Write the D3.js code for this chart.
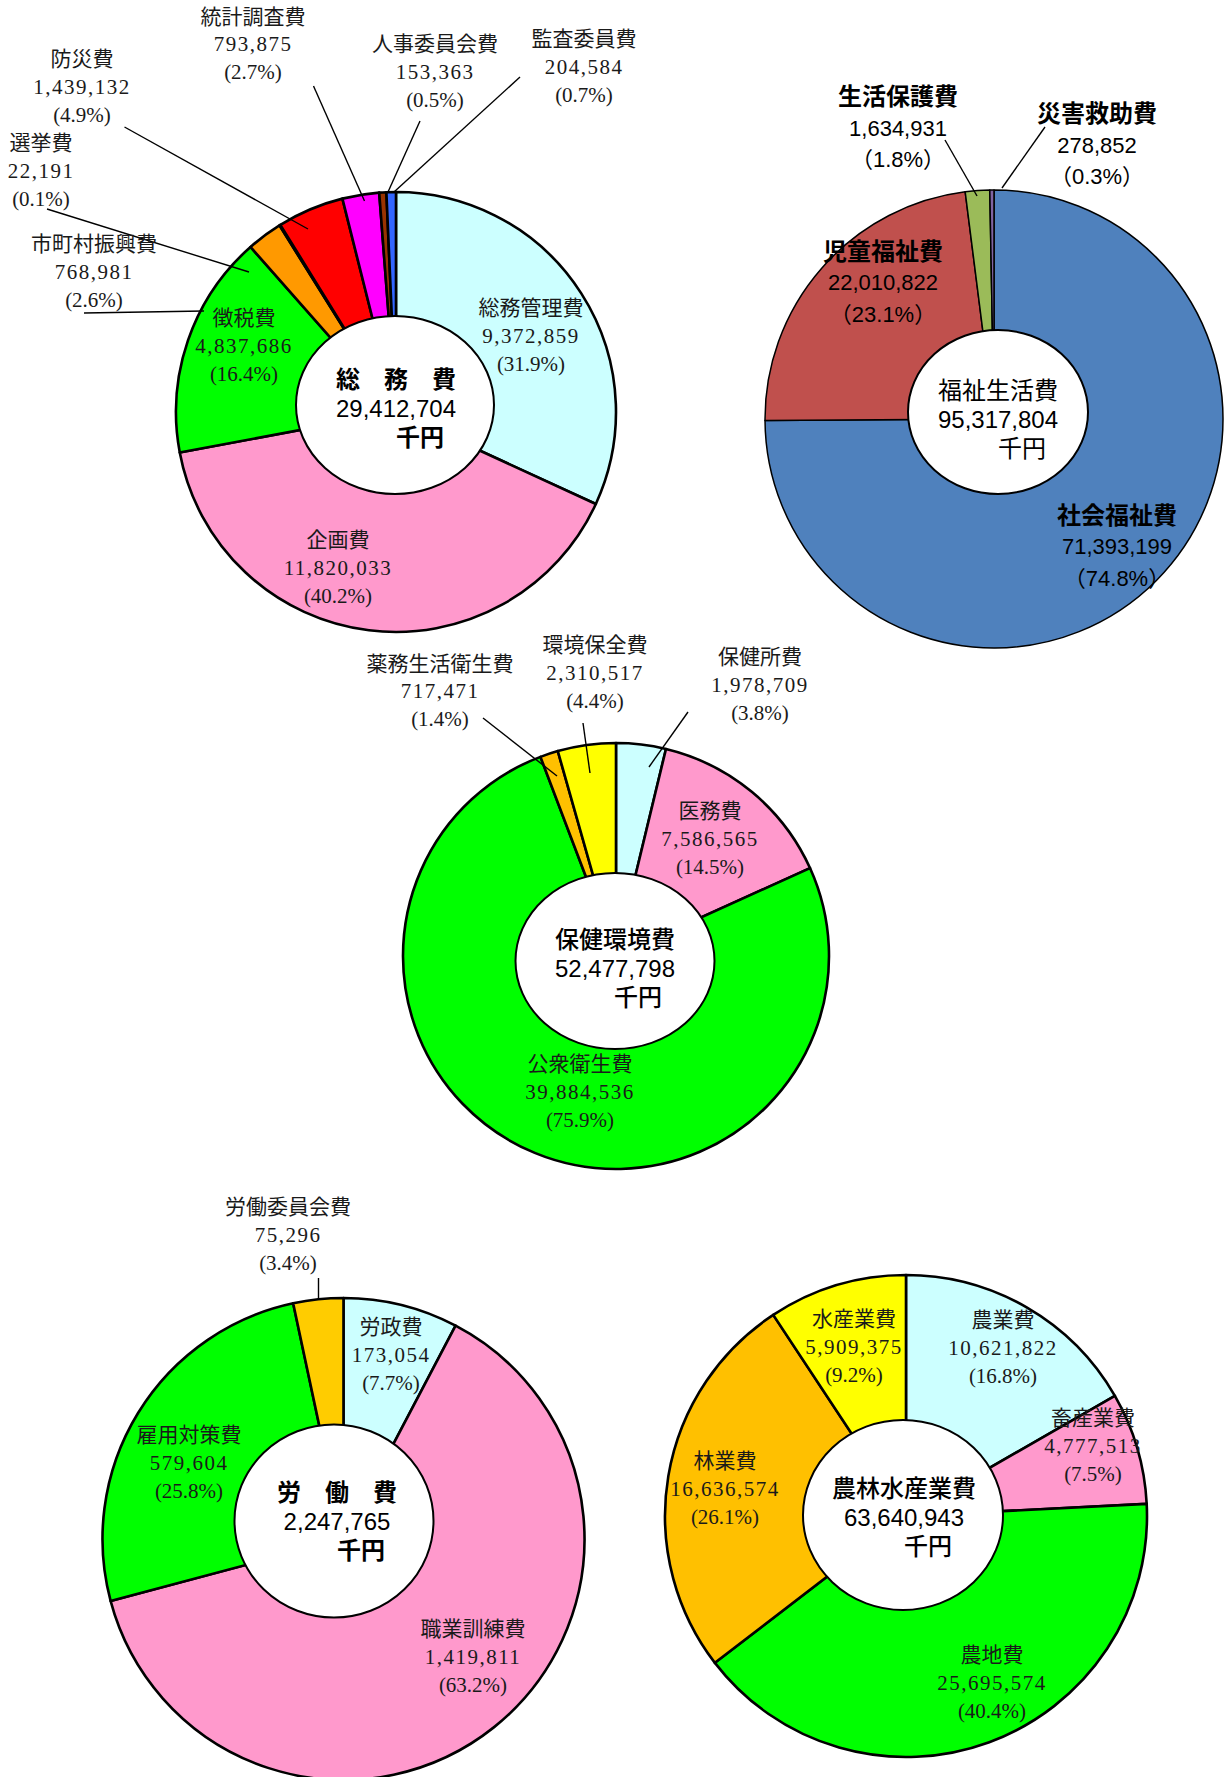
<!DOCTYPE html>
<html><head><meta charset="utf-8">
<script src="https://cdn.jsdelivr.net/npm/d3@7"></script>
<style>html,body{margin:0;padding:0;background:#fff}svg{display:block}</style>
</head><body>
<svg id="c" width="1232" height="1777"></svg>
<script>
// ---------------- data ----------------
const somuNames   = ["総務管理費","企画費","徴税費","市町村振興費","選挙費","防災費","統計調査費","人事委員会費","監査委員費"];
const somuValues  = [9372859,11820033,4837686,768981,22191,1439132,793875,153363,204584];
const somuPcts    = ["31.9","40.2","16.4","2.6","0.1","4.9","2.7","0.5","0.7"];
const somuTotal   = 29412704;

const fukushiNames  = ["社会福祉費","児童福祉費","生活保護費","災害救助費"];
const fukushiValues = [71393199,22010822,1634931,278852];
const fukushiPcts   = ["74.8","23.1","1.8","0.3"];
const fukushiTotal  = 95317804;

const hokenNames  = ["保健所費","医務費","公衆衛生費","薬務生活衛生費","環境保全費"];
const hokenValues = [1978709,7586565,39884536,717471,2310517];
const hokenPcts   = ["3.8","14.5","75.9","1.4","4.4"];
const hokenTotal  = 52477798;

const rodoNames  = ["労政費","職業訓練費","雇用対策費","労働委員会費"];
const rodoValues = [173054,1419811,579604,75296];
const rodoPcts   = ["7.7","63.2","25.8","3.4"];
const rodoTotal  = 2247765;

const noriNames  = ["農業費","畜産業費","農地費","林業費","水産業費"];
const noriValues = [10621822,4777513,25695574,16636574,5909375];
const noriPcts   = ["16.8","7.5","40.4","26.1","9.2"];
const noriTotal  = 63640943;

const chartTitles = ["総　務　費","福祉生活費","保健環境費","労　働　費","農林水産業費"];
const unitLabel = "千円";

// ---------------- layout / style ----------------
const MINCHO = "'Liberation Serif','DejaVu Serif','Noto Sans CJK JP',serif";
const GOTHIC = "'Liberation Sans','Noto Sans CJK JP','Noto Sans',sans-serif";

const charts = [
  { names: somuNames, values: somuValues, pcts: somuPcts, total: somuTotal, title: chartTitles[0],
    cx: 396, cy: 412, r: 220, sw: 2.6, hole: [395, 405, 99, 89], holeSw: 2,
    colors: ["#CCFFFF","#FF99CC","#00FF00","#FF9900","#333333","#FF0000","#FF00FF","#993300","#3366FF"],
    style: "mincho", lh: 27.8,
    labels: [[531,308],[338,540],[244,318],[94,244],[41,143],[82,59],[253,16.5],[435,44],[584,39]],
    leaders: [null,null,null,[84,313,204,311],[47,209,249,272],[124.5,127,308,229],[313.5,86,364.5,201],[420,121,388,192],[520,77,394,192]],
    center: { x: 396, y: 379, ux: 420, w: 700 } },
  { names: fukushiNames, values: fukushiValues, pcts: fukushiPcts, total: fukushiTotal, title: chartTitles[1],
    cx: 994, cy: 419, r: 229, sw: 1.5, hole: [998, 412, 90, 82], holeSw: 2,
    colors: ["#4F81BD","#C0504D","#9BBB59","#8064A2"],
    style: "gothic", lh: 31.5,
    labels: [[1117,515],[883,251],[898,96.5],[1097,113.5]],
    leaders: [null,null,[945,140,977,196],[1045,127,1002,188]],
    center: { x: 998, y: 390, ux: 1022, w: 400 } },
  { names: hokenNames, values: hokenValues, pcts: hokenPcts, total: hokenTotal, title: chartTitles[2],
    cx: 616, cy: 956, r: 213, sw: 2.6, hole: [615, 961, 99.5, 88], holeSw: 2,
    colors: ["#CCFFFF","#FF99CC","#00FF00","#FFC000","#FFFF00"],
    style: "mincho", lh: 27.8,
    labels: [[760,657],[710,811],[580,1064],[440,663.5],[595,645]],
    leaders: [[688,712,649,767],null,null,[483,718,557,776],[583,723,590,773]],
    center: { x: 615, y: 939, ux: 638, w: 500 } },
  { names: rodoNames, values: rodoValues, pcts: rodoPcts, total: rodoTotal, title: chartTitles[3],
    cx: 343.5, cy: 1539, r: 241, sw: 2.6, hole: [334, 1521, 99.5, 96.5], holeSw: 2,
    colors: ["#CCFFFF","#FF99CC","#00FF00","#FFCC00"],
    style: "mincho", lh: 28,
    labels: [[391,1327],[473,1628.5],[189,1435],[288,1207]],
    leaders: [null,null,null,[318.5,1278,318.5,1299]],
    center: { x: 337, y: 1492, ux: 361, w: 700 } },
  { names: noriNames, values: noriValues, pcts: noriPcts, total: noriTotal, title: chartTitles[4],
    cx: 906, cy: 1516, r: 241, sw: 2.6, hole: [903, 1515, 100, 95], holeSw: 2,
    colors: ["#CCFFFF","#FF99CC","#00FF00","#FFC000","#FFFF00"],
    style: "mincho", lh: 28,
    labels: [[1003,1320],[1093,1418],[992,1655],[725,1461],[854,1319]],
    leaders: [null,null,null,null,null],
    center: { x: 904, y: 1488, ux: 928, w: 500 } }
];

// ---------------- drawing ----------------
const svg = d3.select("#c");
svg.append("rect").attr("width",1232).attr("height",1777).attr("fill","#fff");
const fmt = d3.format(",");

charts.forEach(cfg => {
  const data = cfg.names.map((n,i) => ({ name: n, value: cfg.values[i], pct: cfg.pcts[i], color: cfg.colors[i], lab: cfg.labels[i], leader: cfg.leaders[i] }));
  const pie = d3.pie().sort(null).value(d => d.value);
  const arc = d3.arc().innerRadius(0).outerRadius(cfg.r);

  const g = svg.append("g");
  const pg = g.append("g").attr("transform", `translate(${cfg.cx},${cfg.cy})`);
  pg.selectAll("path").data(pie(data)).join("path")
    .attr("d", arc)
    .attr("fill", d => d.data.color)
    .attr("stroke", "#000")
    .attr("stroke-width", cfg.sw)
    .attr("stroke-linejoin", "round");

  // center hole
  g.append("ellipse")
    .attr("cx", cfg.hole[0]).attr("cy", cfg.hole[1])
    .attr("rx", cfg.hole[2]).attr("ry", cfg.hole[3])
    .attr("fill", "#fff").attr("stroke", "#000").attr("stroke-width", cfg.holeSw);

  // leader lines
  g.selectAll("line.leader").data(data.filter(d => d.leader)).join("line")
    .attr("class","leader")
    .attr("x1", d => d.leader[0]).attr("y1", d => d.leader[1])
    .attr("x2", d => d.leader[2]).attr("y2", d => d.leader[3])
    .attr("stroke", "#000").attr("stroke-width", 1.4);

  // slice labels
  const isM = cfg.style === "mincho";
  const lab = g.selectAll("text.lab").data(data).join("text")
    .attr("class","lab")
    .attr("text-anchor","middle")
    .attr("font-family", isM ? MINCHO : GOTHIC)
    .attr("fill", isM ? "#1a1a1a" : "#000");
  lab.append("tspan")
    .attr("x", d => d.lab[0]).attr("y", d => d.lab[1])
    .attr("dominant-baseline","central")
    .attr("font-size", isM ? 21 : 24)
    .attr("font-weight", isM ? 400 : 700)
    .text(d => d.name);
  lab.append("tspan")
    .attr("x", d => d.lab[0]).attr("y", d => d.lab[1] + cfg.lh)
    .attr("dominant-baseline","central")
    .attr("font-size", isM ? 21 : 22)
    .attr("font-weight", isM ? 400 : 400)
    .attr("letter-spacing", isM ? 1.5 : 0)
    .text(d => fmt(d.value));
  lab.append("tspan")
    .attr("x", d => d.lab[0]).attr("y", d => d.lab[1] + 2*cfg.lh)
    .attr("dominant-baseline","central")
    .attr("font-size", isM ? 21 : 22)
    .attr("font-weight", 400)
    .text(d => isM ? `(${d.pct}%)` : `（${d.pct}%）`);

  // center text
  const c = cfg.center;
  const ct = g.append("text").attr("text-anchor","middle").attr("font-family", GOTHIC).attr("fill","#000");
  ct.append("tspan").attr("x", c.x).attr("y", c.y).attr("dominant-baseline","central")
    .attr("font-size", 24).attr("font-weight", c.w).text(cfg.title);
  ct.append("tspan").attr("x", c.x).attr("y", c.y + 29).attr("dominant-baseline","central")
    .attr("font-size", 24).attr("font-weight", 400).text(fmt(cfg.total));
  ct.append("tspan").attr("x", c.ux).attr("y", c.y + 58).attr("dominant-baseline","central")
    .attr("font-size", 24).attr("font-weight", c.w).text(unitLabel);
});
</script>
</body></html>
